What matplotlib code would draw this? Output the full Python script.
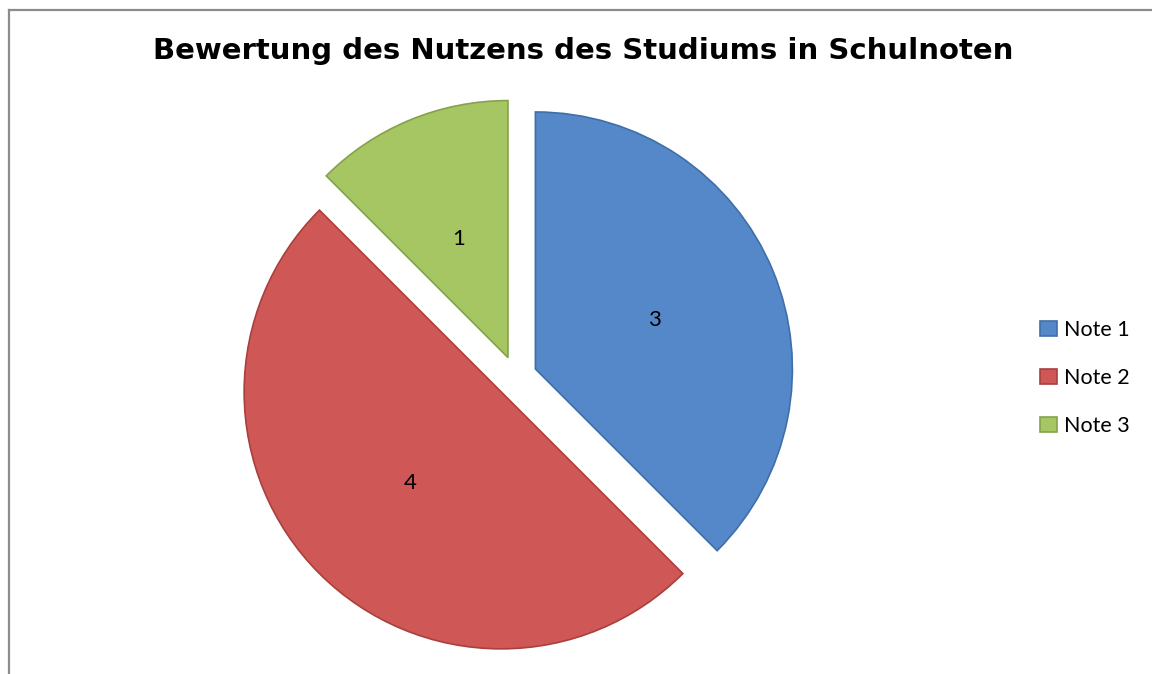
import matplotlib.pyplot as plt
from matplotlib.lines import Line2D

title = 'Bewertung des Nutzens des Studiums in Schulnoten'
labels = ['Note 1', 'Note 2', 'Note 3']
values = [3, 4, 1]
colors = ['#5588C9', '#CF5856', '#A6C663']
edges = ['#3F6FA8', '#A8403E', '#85A24A']

W, H = 1152, 674
fig = plt.figure(figsize=(W / 100, H / 100), dpi=100)
ax = fig.add_axes([0, 0, 1, 1])
ax.axis('off')

total = sum(values)
wedges, texts, autotexts = ax.pie(
    values, colors=colors, startangle=90, counterclock=False,
    center=(516, H - 377), radius=257, explode=[21] * len(values),
    autopct=lambda p: f'{round(p * total / 100):d}', pctdistance=0.5,
    textprops=dict(family='Lato', fontsize=16, color='black'),
    wedgeprops=dict(linewidth=1.2))
for w, ec in zip(wedges, edges):
    w.set_edgecolor(ec)
ax.set_aspect('equal')
ax.set_xlim(0, W)
ax.set_ylim(0, H)

fig.text(583 / W, 1 - 51 / H, title, ha='center', va='center',
         fontsize=21, fontweight='bold', family='DejaVu Sans')

fig.legend(wedges, labels, loc='center left',
           bbox_to_anchor=(1021 / W, 1 - 378 / H),
           frameon=False, prop=dict(family='Lato', size=15.5),
           handlelength=0.75, handleheight=0.75, handletextpad=0.35,
           labelspacing=1.3)

# gray outer frame (only top and left visible)
fig.add_artist(Line2D([8.5 / W, 1], [1 - 9.5 / H, 1 - 9.5 / H],
                      transform=fig.transFigure, color='#8C8C8C', lw=1.6))
fig.add_artist(Line2D([8.5 / W, 8.5 / W], [0, 1 - 9.5 / H],
                      transform=fig.transFigure, color='#8C8C8C', lw=1.6))

fig.savefig('out.png', dpi=100)
